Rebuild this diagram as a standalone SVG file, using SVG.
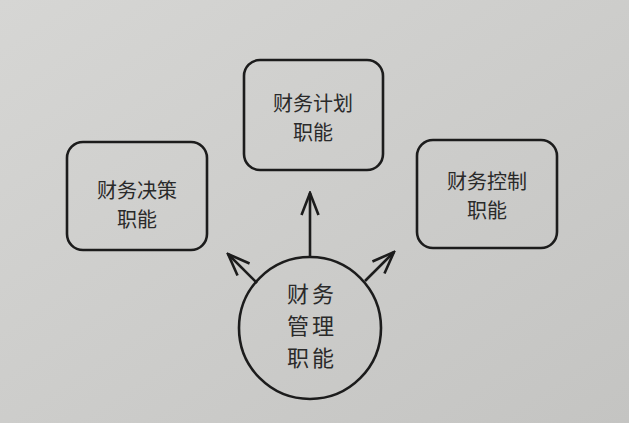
<svg xmlns="http://www.w3.org/2000/svg" width="629" height="423" viewBox="0 0 629 423">
<defs>
<linearGradient id="bg" x1="0" y1="0" x2="1" y2="1">
<stop offset="0" stop-color="#d6d6d4"/>
<stop offset="1" stop-color="#c4c4c2"/>
</linearGradient>
<marker id="arr" viewBox="0 0 26 20" refX="24" refY="10" markerWidth="26" markerHeight="20" markerUnits="userSpaceOnUse" orient="auto">
<path d="M2,1.5 L24,10 L2,18.5" fill="none" stroke="#1c1c1c" stroke-width="2.6" stroke-linejoin="miter"/>
</marker>
</defs>
<style>
.box{fill:none;stroke:#1c1c1c;stroke-width:2.6}
.lbl{font-family:"Noto Sans CJK SC","Noto Sans",sans-serif;font-size:20px;fill:#2a2a2a;text-anchor:middle}
.big{font-size:22px;letter-spacing:3px}
.con{fill:none;stroke:#1c1c1c;stroke-width:2.6}
</style>
<rect width="629" height="423" fill="url(#bg)"/>
<g id="node-decision">
<rect class="box" x="67" y="142" width="140" height="108" rx="16"/>
<text class="lbl" x="137" y="198">财务决策</text>
<text class="lbl" x="137" y="227">职能</text>
</g>
<g id="node-plan">
<rect class="box" x="244" y="60" width="139" height="110" rx="16"/>
<text class="lbl" x="313" y="111">财务计划</text>
<text class="lbl" x="313" y="140">职能</text>
</g>
<g id="node-control">
<rect class="box" x="417" y="140" width="140" height="108" rx="16"/>
<text class="lbl" x="487" y="189">财务控制</text>
<text class="lbl" x="487" y="218">职能</text>
</g>
<g id="node-management">
<circle class="box" cx="310" cy="328" r="71"/>
<text class="lbl big" x="312" y="302">财务</text>
<text class="lbl big" x="312" y="334">管理</text>
<text class="lbl big" x="312" y="366">职能</text>
</g>
<g id="connectors">
<line class="con" x1="310" y1="257" x2="310" y2="193" marker-end="url(#arr)"/>
<line class="con" x1="257" y1="283" x2="228" y2="254" marker-end="url(#arr)"/>
<line class="con" x1="365" y1="281" x2="394" y2="252" marker-end="url(#arr)"/>
</g>
</svg>
